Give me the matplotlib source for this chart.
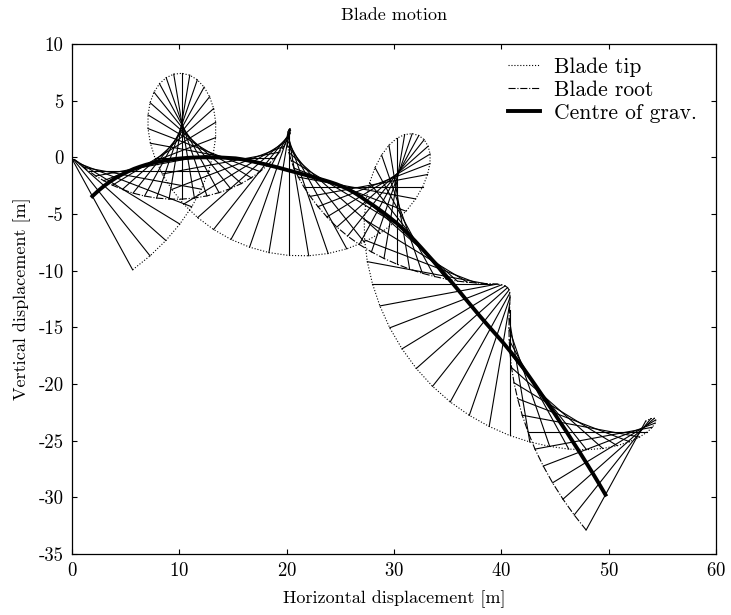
import numpy as np
import matplotlib
matplotlib.use('Agg')
import matplotlib.pyplot as plt
from matplotlib.lines import Line2D

plt.rcParams['font.family'] = 'serif'
plt.rcParams['font.serif'] = ['cmr10']
plt.rcParams['axes.formatter.use_mathtext'] = True

# centre of gravity position [m] for each drawn time step
cg_x = [1.90, 2.45, 3.00, 3.55, 4.11, 4.66, 5.22, 5.77, 6.33, 6.89,
        7.45, 8.00, 8.56, 9.11, 9.67, 10.22, 10.78, 11.34, 11.90, 12.46,
        13.02, 13.58, 14.13, 14.69, 15.24, 15.80, 16.35, 16.90, 17.45, 18.01,
        18.56, 19.11, 19.65, 20.20, 20.75, 21.30, 21.85, 22.40, 22.96, 23.51,
        24.07, 24.63, 25.18, 25.74, 26.30, 26.87, 27.43, 27.99, 28.56, 29.13,
        29.69, 30.26, 30.83, 31.41, 31.98, 32.55, 33.14, 33.72, 34.31, 34.90,
        35.49, 36.07, 36.65, 37.24, 37.82, 38.41, 38.99, 39.58, 40.17, 40.76,
        41.35, 41.94, 42.53, 43.12, 43.71, 44.30, 44.90, 45.49, 46.09, 46.68,
        47.29, 47.89, 48.50, 49.10, 49.70]
cg_y = [-3.43, -2.95, -2.52, -2.14, -1.80, -1.51, -1.25, -1.02, -0.83, -0.66,
        -0.52, -0.40, -0.30, -0.21, -0.14, -0.09, -0.05, -0.02, -0.00, 0.00,
        0.00, -0.01, -0.03, -0.06, -0.09, -0.17, -0.27, -0.38, -0.50, -0.62,
        -0.75, -0.88, -1.02, -1.16, -1.30, -1.44, -1.58, -1.73, -1.88, -2.03,
        -2.19, -2.37, -2.58, -2.82, -3.12, -3.46, -3.84, -4.19, -4.57, -4.96,
        -5.38, -5.82, -6.32, -6.85, -7.40, -7.99, -8.61, -9.22, -9.86, -10.51,
        -11.15, -11.81, -12.48, -13.15, -13.81, -14.46, -15.09, -15.72, -16.36, -17.04,
        -17.73, -18.46, -19.25, -20.05, -20.87, -21.69, -22.53, -23.38, -24.24, -25.12,
        -26.01, -26.92, -27.85, -28.80, -29.77]
# blade direction (root -> tip) in degrees for each time step
blade_angle = [-60, -50, -40, -30, -20, -10, 0, 10, 20, 30,
               40, 50, 60, 70, 80, 90, 100, 110, 120, 130,
               140, 150, 160, 170, 180, 190, 200, 210, 220, 230,
               240, 250, 260, 270, 280, 290, 300, 310, 320, 330,
               340, 350, 360, 370, 380, 390, 400, 410, 420, 430,
               440, 450, 460, 470, 480, 490, 500, 510, 520, 530,
               540, 550, 560, 570, 580, 590, 600, 610, 620, 630,
               640, 650, 660, 670, 680, 690, 700, 710, 720, 730,
               740, 750, 760, 770, 780]

# distance from the centre of gravity to the root and to the tip [m]
root_dist = 3.6
tip_dist = 7.5

cgx = np.array(cg_x)
cgy = np.array(cg_y)
th = np.radians(blade_angle)
root_x = cgx - root_dist * np.cos(th)
root_y = cgy - root_dist * np.sin(th)
tip_x = cgx + tip_dist * np.cos(th)
tip_y = cgy + tip_dist * np.sin(th)

fig = plt.figure(figsize=(7.31, 6.15), dpi=100)
ax = fig.add_axes([0.0985, 0.0992, 0.881, 0.8293])

# blade at each time step
for i in range(len(cg_x)):
    ax.plot([root_x[i], tip_x[i]], [root_y[i], tip_y[i]], color='k', lw=0.8)
ax.plot(tip_x, tip_y, 'k:', lw=0.8)
ax.plot(root_x, root_y, 'k-.', lw=0.8)
ax.plot(cgx, cgy, 'k-', lw=2.8)

ax.set_xlim(0, 60)
ax.set_ylim(-35, 10)
ax.set_xticks(range(0, 61, 10))
ax.set_yticks(range(-35, 11, 5))
ax.set_yticklabels([str(t) for t in range(-35, 11, 5)])
ax.tick_params(direction='in', top=True, right=True, labelsize=13.5, pad=6)
for s in ax.spines.values():
    s.set_linewidth(0.9)
ax.set_xlabel('Horizontal displacement [m]', fontsize=13, labelpad=7)
ax.set_ylabel('Vertical displacement [m]', fontsize=13, labelpad=5)
ax.set_title('Blade motion', fontsize=13, pad=17)

# legend drawn by hand to match the spacing of the original
leg = [('Blade tip', ':', 0.8, 0.9588, 0.9549),
       ('Blade root', '-.', 0.8, 0.9137, 0.9098),
       ('Centre of grav.', '-', 2.8, 0.8686, 0.8647)]
for name, ls, lw, yl, yt in leg:
    ax.add_line(Line2D([0.677, 0.727], [yl, yl], transform=ax.transAxes,
                       color='k', ls=ls, lw=lw))
    ax.text(0.748, yt, name, transform=ax.transAxes, fontsize=15.5, va='center')

fig.savefig('out.png')
